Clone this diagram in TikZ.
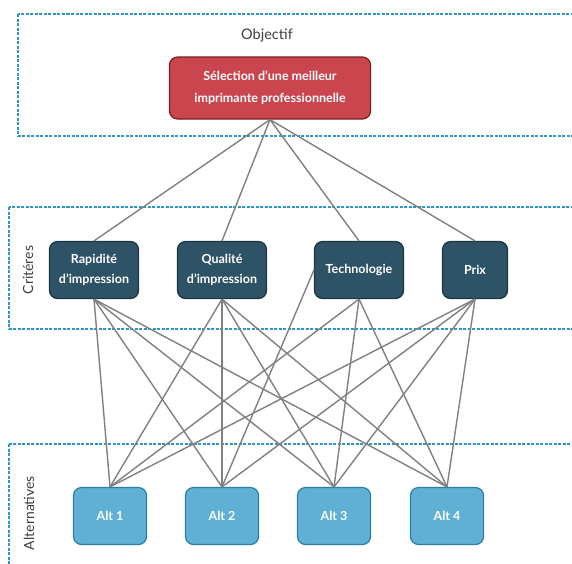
\documentclass[tikz,border=0pt]{standalone}
\usepackage{fontspec}
\setmainfont{Lato}
\usepackage{tikz}

\definecolor{bandblue}{HTML}{2F96C8}
\definecolor{goalred}{HTML}{C9464F}
\definecolor{goaldark}{HTML}{7A1F27}
\definecolor{critfill}{HTML}{2F5366}
\definecolor{critdark}{HTML}{1B3544}
\definecolor{altfill}{HTML}{5FB0D4}
\definecolor{altdark}{HTML}{2B7EA8}
\definecolor{linkgray}{HTML}{808080}
\definecolor{labelgray}{HTML}{404040}

\tikzset{
  band/.style={draw=bandblue, line width=1.3pt, dash pattern=on 3pt off 1.5pt},
  bandlabel/.style={text=labelgray, font=\fontsize{14}{16}\selectfont},
  goalbox/.style={draw=goaldark, fill=goalred, text=white, rounded corners=8pt,
    line width=1.2pt, minimum width=201pt, minimum height=62pt, align=center,
    inner sep=0pt, font=\bfseries\fontsize{12.5}{22}\selectfont},
  critbox/.style={draw=critdark, fill=critfill, text=white, rounded corners=8pt,
    line width=1.2pt, minimum width=89pt, minimum height=57pt, align=center,
    inner sep=0pt, font=\bfseries\fontsize{12.5}{19.5}\selectfont},
  altbox/.style={draw=altdark, fill=altfill, text=white, rounded corners=8pt,
    line width=1.2pt, minimum width=73pt, minimum height=57pt, align=center,
    inner sep=0pt, font=\bfseries\fontsize{12.5}{15}\selectfont},
  link/.style={draw=linkgray, line width=1.4pt}
}

\begin{document}
\begin{tikzpicture}[x=1pt,y=-1pt]
\useasboundingbox (0,0) rectangle (572,563);
% bands
\draw[band] (18,14) rectangle (590,136);
\draw[band] (9,207) rectangle (590,329);
\draw[band] (9,444) rectangle (590,580);
\node[bandlabel, font=\fontsize{14.5}{16}\selectfont] (objlabel) at (267,35) {Objectif};
\node[bandlabel, rotate=90] (critlabel) at (28,270) {Critéres};
\node[bandlabel, rotate=90] (altlabel) at (29,513) {Alternatives};
% objective
\node[goalbox] (goal) at (270,88) {Sélection d'une meilleur\\imprimante professionnelle};
% criteria
\node[critbox] (speed) at (94,270) {Rapidité\\d'impression};
\node[critbox] (quality) at (222,270) {Qualité\\d'impression};
\node[critbox] (tech) at (359,270) {Technologie};
\node[critbox, minimum width=65pt] (price) at (475,270) {Prix};
% alternatives
\foreach \i/\x in {1/110,2/222,3/334,4/447}
  \node[altbox] (alt\i) at (\x,516) {Alt \i};
% links
\foreach \c in {speed,quality,tech,price}
  \draw[link] (goal.south) -- (\c.north);
\foreach \i in {1,2,3,4} {
  \draw[link] (speed.south) -- (alt\i.north);
  \draw[link] (quality.south) -- (alt\i.north);
  \draw[link] (price.south) -- (alt\i.north);
}
\draw[link] (tech.south) -- (alt1.north);
\draw[link] (tech.west) -- (alt2.north);
\draw[link] (tech.south) -- (alt3.north);
\draw[link] (tech.south) -- (alt4.north);
\end{tikzpicture}
\end{document}
